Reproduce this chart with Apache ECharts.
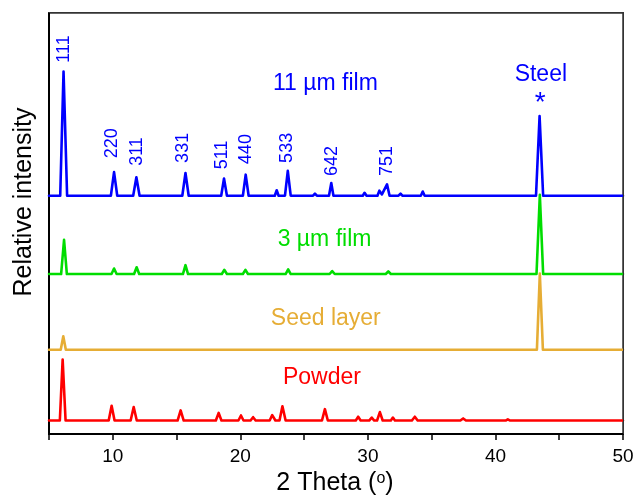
<!DOCTYPE html>
<html>
<head>
<meta charset="utf-8">
<script src="https://cdn.jsdelivr.net/npm/echarts@6/dist/echarts.min.js"></script>
<style>
html,body{margin:0;padding:0;background:#fff;}
#wrap{position:relative;width:637px;height:498px;}
#chart{width:637px;height:498px;background:#fff;}
#frame{position:absolute;pointer-events:none;border-top:1.5px solid #333;border-right:1.5px solid #333;box-sizing:border-box;}
</style>
</head>
<body>
<div id="wrap"><div id="chart"></div><div id="frame"></div></div>
<script>
// ---- data (2θ in degrees, intensity relative to each pattern's own baseline) ----
const seriesNames = ['Powder', 'Seed layer', '3 \u00b5m film', '11 \u00b5m film'];
const seriesColors = ['#FF0000', '#E6AD35', '#00DD00', '#0000FF'];
const baselineOffsets = [3.2, 20, 38, 56.6];

const powder = [
  [5,0],[5.85,0],[6.07,14.5],[6.3,0],
  [9.68,0],[9.91,3.5],[10.14,0],
  [11.4,0],[11.64,3.2],[11.88,0],
  [15.08,0],[15.32,2.4],[15.56,0],
  [18.08,0],[18.3,1.8],[18.52,0],
  [19.85,0],[20.05,1.2],[20.25,0],
  [20.8,0],[21.0,0.8],[21.2,0],
  [22.3,0],[22.5,1.3],[22.75,0],[23.07,0],[23.3,3.4],[23.55,0],
  [26.4,0],[26.63,2.7],[26.86,0],
  [29.05,0],[29.24,0.9],[29.43,0],
  [30.1,0],[30.3,0.7],[30.5,0],[30.72,0],[30.94,2.0],[31.16,0],
  [31.8,0],[31.96,0.7],[32.12,0],
  [33.45,0],[33.68,0.9],[33.9,0],
  [37.25,0],[37.47,0.5],[37.69,0],
  [40.8,0],[40.97,0.3],[41.15,0],
  [50,0]
];
const seedLayer = [
  [5,0],[5.92,0],[6.12,3.2],[6.32,0],
  [41.4,0],[41.55,0.3],[41.7,0],
  [43.25,0],[43.48,18.1],[43.72,0],
  [47.7,0],[47.85,0.3],[48.0,0],
  [50,0]
];
const film3um = [
  [5,0],[5.95,0],[6.18,8.1],[6.4,0],
  [9.9,0],[10.1,1.3],[10.3,0],
  [11.67,0],[11.87,1.6],[12.07,0],
  [15.5,0],[15.7,2.1],[15.9,0],
  [18.55,0],[18.74,1.0],[18.95,0],
  [20.2,0],[20.4,1.0],[20.6,0],
  [22.7,0],[22.85,0.4],[23.0,0],
  [23.55,0],[23.75,1.1],[23.95,0],
  [27.0,0],[27.2,0.7],[27.4,0],
  [31.4,0],[31.6,0.6],[31.8,0],
  [43.22,0],[43.48,18.8],[43.74,0],
  [50,0]
];
const film11um = [
  [5,0],[5.88,0],[6.14,29.5],[6.42,0],
  [9.85,0],[10.1,5.6],[10.35,0],
  [11.6,0],[11.85,4.4],[12.1,0],
  [15.45,0],[15.7,5.4],[15.95,0],
  [18.5,0],[18.72,4.1],[18.95,0],
  [20.2,0],[20.42,5.0],[20.65,0],
  [22.7,0],[22.85,1.3],[23.0,0],
  [23.5,0],[23.72,5.9],[23.95,0],
  [24.9,0],[25.05,0.4],[25.2,0],
  [25.7,0],[25.85,0.5],[26.0,0],
  [26.95,0],[27.13,3.0],[27.3,0],
  [27.8,0],[27.92,0.3],[28.05,0],
  [29.6,0],[29.74,0.7],[29.9,0],
  [30.75,0],[30.9,1.2],[31.1,0.3],[31.5,2.7],[31.7,0],
  [32.4,0],[32.56,0.5],[32.7,0],
  [34.15,0],[34.3,1.0],[34.45,0],
  [37.95,0],[38.1,0.4],[38.25,0],
  [41.45,0],[41.6,0.3],[41.75,0],
  [43.18,0],[43.46,18.9],[43.74,0],
  [50,0]
];
const patterns = [powder, seedLayer, film3um, film11um];

// Miller-index labels on the 11 µm film pattern: [2θ, y of text start]
const peakLabels = ['111','220','311','331','511','440','533','642','751'];
const peakLabelX = [6.15, 9.94, 11.87, 15.53, 18.56, 20.44, 23.65, 27.18, 31.49];
const peakLabelY = [88.2, 65.5, 63.7, 64.4, 62.9, 64.1, 64.4, 61.3, 61.3];

// pattern name annotations: [2θ, y] of text centre
const nameLabelX = [26.4, 26.7, 26.6, 26.67];
const nameLabelY = [13.3, 27.3, 46.1, 83.1];

const steelLabels = ['Steel', '*'];
const steelLabelX = [43.56, 43.5];
const steelLabelY = [85.3, 78.6];

const xTickLabels = [10, 20, 30, 40, 50];
const xRange = [5, 50];
const yRange = [0, 100];

// ---- chart ----
const FONT = "'Liberation Sans', Arial, sans-serif";
const chart = echarts.init(document.getElementById('chart'));

const lineSeries = patterns.map((pts, i) => ({
  type: 'line',
  name: seriesNames[i],
  data: pts.map(p => [p[0], p[1] + baselineOffsets[i]]),
  showSymbol: false,
  symbol: 'none',
  lineStyle: {color: seriesColors[i], width: 2.6, join: 'round', cap: 'round'},
  silent: true,
  z: 2 + i
}));

const labelCommon = {
  type: 'scatter',
  symbolSize: 0,
  silent: true,
  z: 10,
  itemStyle: {opacity: 1},
  emphasis: {disabled: true}
};

const peakLabelSeries = Object.assign({}, labelCommon, {
  data: peakLabels.map((t, i) => ({value: [peakLabelX[i], peakLabelY[i]], name: t})),
  label: {
    show: true, position: 'inside', rotate: 90, align: 'left', verticalAlign: 'middle', opacity: 1,
    formatter: p => p.name, color: '#0000FF', fontSize: 18, fontFamily: FONT
  }
});

const nameLabelSeries = Object.assign({}, labelCommon, {
  data: seriesNames.map((t, i) => ({
    value: [nameLabelX[i], nameLabelY[i]], name: t,
    label: {color: seriesColors[i]}
  })),
  label: {
    show: true, position: 'inside', align: 'center', verticalAlign: 'middle', opacity: 1,
    formatter: p => p.name, fontSize: 23, fontFamily: FONT
  }
});

const steelLabelSeries = Object.assign({}, labelCommon, {
  data: steelLabels.map((t, i) => ({
    value: [steelLabelX[i], steelLabelY[i]], name: t,
    label: i === 1 ? {fontSize: 28} : {}
  })),
  label: {
    show: true, position: 'inside', align: 'center', verticalAlign: 'middle', opacity: 1,
    formatter: p => p.name, color: '#0000FF', fontSize: 23, fontFamily: FONT
  }
});

const option = {
  animation: false,
  grid: {left: 49, right: 14, top: 13, bottom: 64, show: true, borderColor: '#333333', borderWidth: 1.5},
  xAxis: {
    type: 'value', min: xRange[0], max: xRange[1], interval: 5,
    axisLine: {show: true, onZero: false, lineStyle: {color: '#000', width: 2}},
    axisTick: {show: true, inside: false, length: 6, lineStyle: {color: '#000', width: 1.5}},
    axisLabel: {
      show: true, margin: 13, color: '#000', fontSize: 19, fontFamily: FONT,
      formatter: v => (xTickLabels.indexOf(v) >= 0 ? String(v) : '')
    },
    splitLine: {show: false}
  },
  yAxis: {
    type: 'value', min: yRange[0], max: yRange[1],
    axisLine: {show: true, onZero: false, lineStyle: {color: '#000', width: 2}},
    axisTick: {show: false}, axisLabel: {show: false}, splitLine: {show: false}
  },
  graphic: [
    {
      id: 'xtitle', type: 'text', x: 335, y: 483, silent: true,
      style: {
        text: '2 Theta ({sup|o})',
        align: 'center', verticalAlign: 'middle',
        fill: '#000', font: '25px ' + FONT,
        rich: {sup: {fontSize: 16, verticalAlign: 'top', fontFamily: FONT, fill: '#000', padding: [0, 0, 8, 0]}}
      }
    },
    {
      id: 'ytitle', type: 'text', x: 24, y: 202, rotation: Math.PI / 2, silent: true,
      style: {
        text: 'Relative intensity',
        align: 'center', verticalAlign: 'middle',
        fill: '#000', font: '25px ' + FONT
      }
    }
  ],
  series: [...lineSeries, peakLabelSeries, nameLabelSeries, steelLabelSeries]
};
chart.setOption(option);

// top and right edges of the plot frame, placed from the axis extents via the chart's own scales
(function placeFrame() {
  const el = document.getElementById('frame');
  let tl, br;
  try {
    tl = chart.convertToPixel({gridIndex: 0}, [xRange[0], yRange[1]]);
    br = chart.convertToPixel({gridIndex: 0}, [xRange[1], yRange[0]]);
  } catch (e) { tl = null; }
  if (!tl || !br || isNaN(tl[0]) || isNaN(br[0])) { return; }
  el.style.left = tl[0] + 'px';
  el.style.top = (tl[1] - 0.75) + 'px';
  el.style.width = (br[0] - tl[0] + 0.75) + 'px';
  el.style.height = (br[1] - tl[1] + 0.75) + 'px';
})();
</script>
</body>
</html>
